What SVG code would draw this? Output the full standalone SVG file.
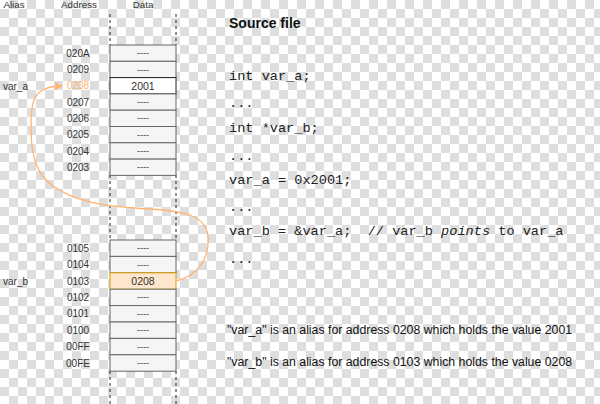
<svg xmlns="http://www.w3.org/2000/svg" width="600" height="404" viewBox="0 0 600 404">
<style>
.hdr{font-family:"Liberation Sans",Arial,sans-serif;font-size:9.8px;fill:#333;text-anchor:middle}
.addr{font-family:"Liberation Sans",Arial,sans-serif;font-size:10px;fill:#333;text-anchor:middle;dominant-baseline:central}
.alias{font-family:"Liberation Sans",Arial,sans-serif;font-size:10px;fill:#333;dominant-baseline:central}
.cell{fill:#f5f5f5;stroke:#666;stroke-width:1}
.dash{font-family:"Liberation Sans",Arial,sans-serif;font-size:9px;fill:#333;text-anchor:middle;dominant-baseline:central}
.val{font-family:"Liberation Sans",Arial,sans-serif;font-size:10.5px;fill:#333;text-anchor:middle;dominant-baseline:central}
.code{font-family:"Liberation Mono","DejaVu Sans Mono",monospace;font-size:13.6px;fill:#222;white-space:pre}
.desc{font-family:"Liberation Sans",Arial,sans-serif;font-size:12.3px;fill:#111}
.vline{stroke:#222;stroke-width:1;stroke-dasharray:3 3;fill:none}
</style>
<defs>
<pattern id="chk" width="18" height="18" patternUnits="userSpaceOnUse">
<rect width="18" height="18" fill="#ffffff"/>
<rect x="9" width="9" height="9" fill="#dedede"/>
<rect y="9" width="9" height="9" fill="#dedede"/>
</pattern>
<marker id="arr" markerWidth="10" markerHeight="10" refX="8" refY="5" orient="auto" markerUnits="userSpaceOnUse">
<path d="M1,1.5 L8,5 L1,8.5 L3,5 Z" fill="#FFB570" stroke="#FFB570" stroke-width="1"/>
</marker>
</defs>
<rect width="600" height="404" fill="url(#chk)"/>

<g id="headers">
<text class="hdr" x="14" y="8">Alias</text>
<text class="hdr" x="79" y="8">Address</text>
<text class="hdr" x="143" y="8">Data</text>
</g>

<g id="memory-guides">
<line class="vline" x1="110" y1="14" x2="110" y2="45"/>
<line class="vline" x1="176" y1="14" x2="176" y2="45"/>
<line class="vline" x1="110" y1="175" x2="110" y2="240"/>
<line class="vline" x1="176" y1="175" x2="176" y2="240"/>
<line class="vline" x1="110" y1="371" x2="110" y2="404"/>
<line class="vline" x1="176" y1="371" x2="176" y2="404"/>
</g>

<g id="mem-020A"><rect class="cell" x="110" y="45" width="66" height="16.3"/><text class="addr" x="78" y="53.2">020A</text><text class="dash" x="143" y="53.2">----</text></g>
<g id="mem-0209"><rect class="cell" x="110" y="61.3" width="66" height="16.3"/><text class="addr" x="78" y="69.5">0209</text><text class="dash" x="143" y="69.5">----</text></g>
<g id="mem-0208"><rect x="110" y="77.6" width="66" height="16.3" fill="#ffffff" stroke="#222" stroke-width="1"/><text class="addr" x="78" y="85.8" style="fill:#FFB570">0208</text><text class="val" x="143" y="85.8">2001</text></g>
<g id="mem-0207"><rect class="cell" x="110" y="93.9" width="66" height="16.3"/><text class="addr" x="78" y="102.1">0207</text><text class="dash" x="143" y="102.1">----</text></g>
<g id="mem-0206"><rect class="cell" x="110" y="110.2" width="66" height="16.3"/><text class="addr" x="78" y="118.4">0206</text><text class="dash" x="143" y="118.4">----</text></g>
<g id="mem-0205"><rect class="cell" x="110" y="126.5" width="66" height="16.3"/><text class="addr" x="78" y="134.7">0205</text><text class="dash" x="143" y="134.7">----</text></g>
<g id="mem-0204"><rect class="cell" x="110" y="142.8" width="66" height="16.3"/><text class="addr" x="78" y="151">0204</text><text class="dash" x="143" y="151">----</text></g>
<g id="mem-0203"><rect class="cell" x="110" y="159.1" width="66" height="16.3"/><text class="addr" x="78" y="167.3">0203</text><text class="dash" x="143" y="167.3">----</text></g>

<g id="mem-0105"><rect class="cell" x="110" y="240" width="66" height="16.4"/><text class="addr" x="78" y="248.2">0105</text><text class="dash" x="143" y="248.2">----</text></g>
<g id="mem-0104"><rect class="cell" x="110" y="256.4" width="66" height="16.4"/><text class="addr" x="78" y="264.6">0104</text><text class="dash" x="143" y="264.6">----</text></g>
<g id="mem-0103"><rect x="110" y="272.8" width="66" height="16.4" fill="#ffe6cc" stroke="#d79b00" stroke-width="1"/><text class="addr" x="78" y="281">0103</text><text class="val" x="143" y="281">0208</text></g>
<g id="mem-0102"><rect class="cell" x="110" y="289.2" width="66" height="16.4"/><text class="addr" x="78" y="297.4">0102</text><text class="dash" x="143" y="297.4">----</text></g>
<g id="mem-0101"><rect class="cell" x="110" y="305.6" width="66" height="16.4"/><text class="addr" x="78" y="313.8">0101</text><text class="dash" x="143" y="313.8">----</text></g>
<g id="mem-0100"><rect class="cell" x="110" y="322" width="66" height="16.4"/><text class="addr" x="78" y="330.2">0100</text><text class="dash" x="143" y="330.2">----</text></g>
<g id="mem-00FF"><rect class="cell" x="110" y="338.4" width="66" height="16.4"/><text class="addr" x="78" y="346.6">00FF</text><text class="dash" x="143" y="346.6">----</text></g>
<g id="mem-00FE"><rect class="cell" x="110" y="354.8" width="66" height="16.4"/><text class="addr" x="78" y="363">00FE</text><text class="dash" x="143" y="363">----</text></g>

<g id="alias-var_a"><text class="alias" x="3" y="86">var_a</text></g>
<g id="alias-var_b"><text class="alias" x="3" y="281">var_b</text></g>

<g id="connectors">
<path d="M176,281 C198,276 210,258 208,236 C206,216 185,211 150,209 C110,207 70,203 46,180 C30,164 30,130 32,108 C34,92 44,86 62,86" fill="none" stroke="#FFB570" stroke-width="1.3" marker-end="url(#arr)"/>
</g>

<g id="source">
<text x="229" y="28" font-family="Liberation Sans,Arial,sans-serif" font-size="14" font-weight="bold" fill="#111">Source file</text>
<text class="code" x="229" y="80">int var_a;</text>
<text class="code" x="229" y="107">...</text>
<text class="code" x="229" y="132">int *var_b;</text>
<text class="code" x="229" y="160">...</text>
<text class="code" x="229" y="184">var_a = 0x2001;</text>
<text class="code" x="229" y="211">...</text>
<text class="code" x="229" y="235">var_b = &amp;var_a;  // var_b <tspan font-style="italic">points</tspan> to var_a</text>
<text class="code" x="229" y="263">...</text>
</g>

<g id="notes">
<text class="desc" x="227" y="334">"var_a" is an alias for address 0208 which holds the value 2001</text>
<text class="desc" x="227" y="366">"var_b" is an alias for address 0103 which holds the value 0208</text>
</g>
</svg>
